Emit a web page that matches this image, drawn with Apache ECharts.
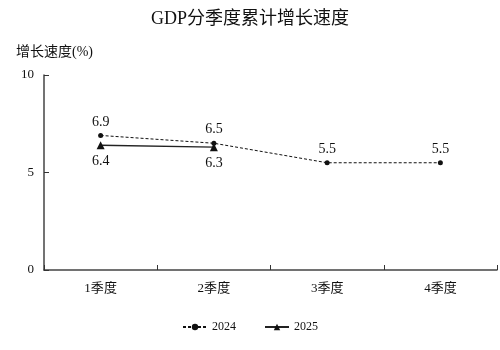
<!DOCTYPE html>
<html>
<head>
<meta charset="utf-8">
<script src="https://cdn.jsdelivr.net/npm/echarts@6/dist/echarts.min.js"></script>
<style>
  html, body { margin: 0; padding: 0; background: #fff; }
  #chart { width: 500px; height: 350px; }
</style>
</head>
<body>
<div id="chart"></div>
<script>
// Quarterly cumulative GDP growth (%)
const categories = ['1季度', '2季度', '3季度', '4季度'];
const values2024 = [6.9, 6.5, 5.5, 5.5];
const values2025 = [6.4, 6.3, null, null];
const yTicks = [0, 5, 10];

const FONT = '"Liberation Serif", "Noto Sans CJK SC", serif';
const INK = '#111';

const chart = echarts.init(document.getElementById('chart'), null, { renderer: 'canvas' });

chart.setOption({
  animation: false,
  backgroundColor: '#fff',
  title: {
    text: 'GDP分季度累计增长速度',
    left: 'center',
    top: 5,
    textStyle: { fontFamily: FONT, fontSize: 18, fontWeight: 'normal', color: INK }
  },
  legend: {
    bottom: 12,
    left: 'center',
    itemGap: 28,
    itemWidth: 24,
    itemHeight: 8,
    textStyle: { fontFamily: FONT, fontSize: 12, color: INK },
    data: ['2024', '2025']
  },
  grid: { left: 44, right: 3, top: 75, bottom: 80, containLabel: false },
  xAxis: {
    type: 'category',
    data: categories,
    boundaryGap: true,
    axisLine: { lineStyle: { color: '#444', width: 1.5 } },
    axisTick: { show: true, inside: true, length: 5, alignWithLabel: false, lineStyle: { color: '#333' } },
    axisLabel: { fontFamily: FONT, fontSize: 13, color: INK, margin: 12 }
  },
  yAxis: {
    type: 'value',
    min: yTicks[0],
    max: yTicks[yTicks.length - 1],
    interval: 5,
    name: '增长速度(%)',
    nameLocation: 'end',
    nameGap: 16,
    nameTextStyle: { fontFamily: FONT, fontSize: 14, color: INK, align: 'left', padding: [0, 0, 0, -28] },
    axisLine: { show: true, lineStyle: { color: '#444', width: 1.5 } },
    axisTick: { show: true, inside: true, length: 5, lineStyle: { color: '#333' } },
    axisLabel: { fontFamily: FONT, fontSize: 13, color: INK, margin: 10 },
    splitLine: { show: false }
  },
  series: [
    {
      name: '2024',
      type: 'line',
      data: values2024,
      symbol: 'circle',
      symbolSize: 5,
      itemStyle: { color: '#111' },
      lineStyle: { color: '#111', width: 1, type: [3, 2] },
      label: {
        show: true,
        position: 'top',
        distance: 4,
        fontFamily: FONT,
        fontSize: 14,
        color: INK
      }
    },
    {
      name: '2025',
      type: 'line',
      data: values2025,
      symbol: 'triangle',
      symbolSize: 8,
      connectNulls: false,
      itemStyle: { color: '#111' },
      lineStyle: { color: '#222', width: 1.4 },
      label: {
        show: true,
        position: 'bottom',
        distance: 5,
        fontFamily: FONT,
        fontSize: 14,
        color: INK
      }
    }
  ]
});
</script>
</body>
</html>
